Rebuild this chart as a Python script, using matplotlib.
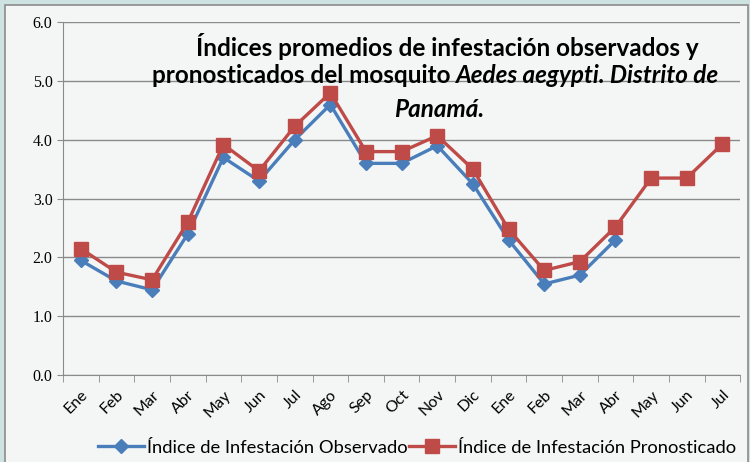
import numpy as np
import matplotlib.pyplot as plt
from matplotlib.patches import Rectangle

meses = ["Ene", "Feb", "Mar", "Abr", "May", "Jun", "Jul", "Ago", "Sep", "Oct",
         "Nov", "Dic", "Ene", "Feb", "Mar", "Abr", "May", "Jun", "Jul"]
observado = [1.95, 1.60, 1.45, 2.40, 3.70, 3.30, 4.00, 4.60, 3.60, 3.60,
             3.90, 3.25, 2.30, 1.55, 1.70, 2.30]
pronosticado = [2.15, 1.75, 1.62, 2.60, 3.92, 3.47, 4.23, 4.80, 3.80, 3.80,
                4.07, 3.50, 2.48, 1.78, 1.93, 2.52, 3.35, 3.35, 3.93]

fig = plt.figure(figsize=(7.5, 4.62), dpi=100)
fig.patch.set_facecolor("#cfe2e2")
# panel del grafico
fig.patches.append(Rectangle((0.007, -0.01), 0.99, 1.0, transform=fig.transFigure,
                             facecolor="#f4f6f6", edgecolor="#8c8c8c", lw=1.2, zorder=-5))

ax = fig.add_axes([0.084, 0.188, 0.903, 0.764])
ax.set_facecolor("none")

x = np.arange(len(meses))
ax.plot(x[:len(observado)], observado, color="#4a7ebb", lw=2.4, marker="D", ms=7,
        label="Índice de Infestación Observado", zorder=3)
ax.plot(x, pronosticado, color="#be4b48", lw=2.4, marker="s", ms=10,
        label="Índice de Infestación Pronosticado", zorder=4)

ax.set_xlim(-0.5, len(meses) - 0.5)
ax.set_ylim(0, 6)
ax.set_yticks(np.arange(0, 6.1, 1.0))
ax.set_yticklabels([f"{v:.1f}" for v in np.arange(0, 6.1, 1.0)],
                   family="Liberation Serif", fontsize=11.5)
ax.yaxis.grid(True, color="#8a8a8a", lw=1)
ax.set_axisbelow(True)
ax.set_xticks(x)
ax.set_xticklabels(meses, rotation=45, ha="right", rotation_mode="anchor",
                   family="Lato", fontsize=11.5)
ax.set_xticks(np.arange(-0.5, len(meses)), minor=True)
ax.tick_params(axis="x", which="major", length=0, pad=9)
ax.tick_params(axis="x", which="minor", length=5, color="#8a8a8a")
ax.tick_params(axis="y", length=4, color="#8a8a8a")
for s in ["top", "right"]:
    ax.spines[s].set_visible(False)
ax.spines["left"].set_color("#8a8a8a")
ax.spines["bottom"].set_color("#8a8a8a")

# titulo dentro del area de trazado
tf = dict(fontsize=17.5, fontweight="bold", family="Lato", color="black")
ax.text(0.567, 0.932, "Índices promedios de infestación observados y",
        transform=ax.transAxes, ha="center", va="center", **tf)
t1 = ax.text(0.131, 0.848, "pronosticados del mosquito ",
             transform=ax.transAxes, ha="left", va="center", **tf)
ax.annotate("Aedes aegypti. Distrito de", xy=(1, 0), xycoords=t1,
            ha="left", va="bottom", style="italic", **tf)
ax.text(0.556, 0.752, "Panamá.", transform=ax.transAxes, ha="center", va="center",
        style="italic", **tf)

ax.legend(loc="center", bbox_to_anchor=(0.523, -0.205), ncol=2, frameon=False,
          prop={"family": "Lato", "size": 13.2}, handlelength=2.5,
          columnspacing=0.1, handletextpad=0.15, borderaxespad=0)

fig.savefig("out.png", dpi=100, facecolor=fig.get_facecolor())
